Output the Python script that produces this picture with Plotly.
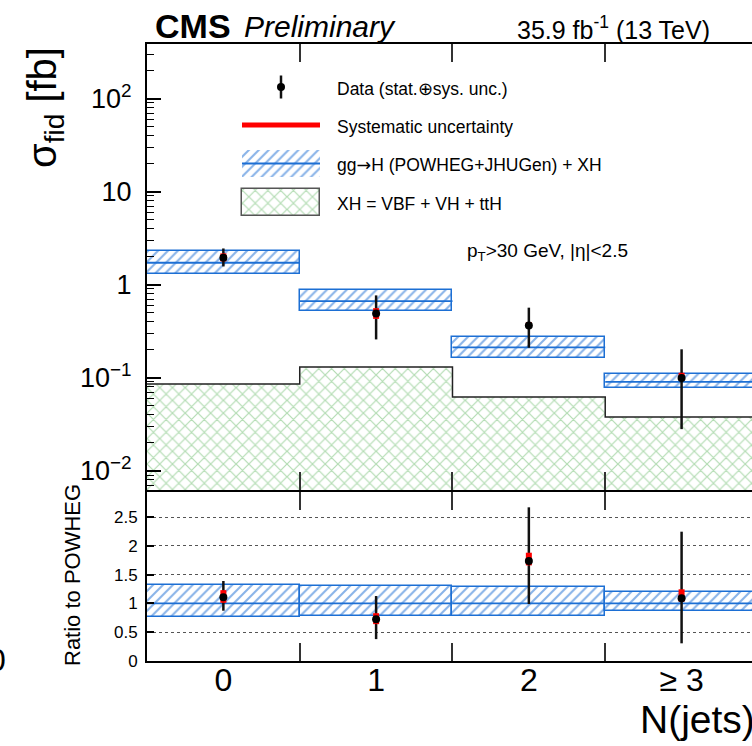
import plotly.graph_objects as go

# ---------------- data ----------------
categories = ["0", "1", "2", "≥ 3"]
bin_centers = [0, 1, 2, 3]
bin_edges = [-0.5, 0.5, 1.5, 2.5, 3.5]

# top panel: fiducial cross section [fb]
data_val = [1.95, 0.489, 0.365, 0.099]
data_err_up = [0.50, 0.278, 0.201, 0.103]
data_err_dn = [0.38, 0.231, 0.155, 0.071]
sys_err_up = [0.22, 0.07, 0.03, 0.014]
sys_err_dn = [0.17, 0.06, 0.016, 0.005]

pred_val = [1.72, 0.667, 0.212, 0.090]
pred_hi = [2.28, 0.869, 0.274, 0.109]
pred_lo = [1.29, 0.517, 0.164, 0.078]

xh_val = [0.0856, 0.130, 0.062, 0.0378]

# ratio panel
ratio_val = [1.106, 0.724, 1.736, 1.088]
ratio_err_up = [0.283, 0.404, 0.932, 1.157]
ratio_err_dn = [0.233, 0.344, 0.746, 0.781]
ratio_sys_up = [0.124, 0.106, 0.144, 0.157]
ratio_sys_dn = [0.096, 0.084, 0.076, 0.058]
ratio_box_hi = [1.314, 1.302, 1.29, 1.198]
ratio_box_lo = [0.764, 0.78, 0.78, 0.862]

top_tickvals = [0.01, 0.1, 1, 10, 100]
top_ticktext = ["10<sup>−2</sup>", "10<sup>−1</sup>", "1", "10", "10<sup>2</sup>"]
ratio_tickvals = [0, 0.5, 1, 1.5, 2, 2.5]
ratio_ticktext = ["0", "0.5", "1", "1.5", "2", "2.5"]

legend_labels = ["Data (stat.⊕sys. unc.)", "Systematic uncertainty",
                 "gg<span style='font-family:DejaVu Sans'>→</span>H (POWHEG+JHUGen) + XH",
                 "XH = VBF + VH + ttH"]

# ---------------- style / geometry ----------------
FONT = "Liberation Sans, Arial, Helvetica, sans-serif"
BLUE_LINE = "#1c6fd4"
BLUE_HATCH = "#1468d2"
GREEN_HATCH = "#66b866"
W, H = 752, 746
ML, MR, MT, MB = 147, 0, 44, 85
plot_w = W - ML - MR
plot_h = H - MT - MB
Y_TOP_BOTTOM_PX = 490   # bottom edge of upper panel
Y_RATIO_TOP_PX = 492    # top edge of ratio panel
top_dom = [(H - MB - Y_TOP_BOTTOM_PX) / plot_h, 1]
ratio_dom = [0, (H - MB - Y_RATIO_TOP_PX) / plot_h]
Y_LOG_RANGE = [-2.207, 2.587]
Y2_RANGE = [0, 2.934]
X_RANGE = [-0.5, 3.461]


def paper(x, y):
    return (x - ML) / plot_w, (H - MB - y) / plot_h


fig = go.Figure()

floor = 10 ** Y_LOG_RANGE[0]

blue_pattern = dict(shape="/", fgcolor=BLUE_HATCH, bgcolor="white", size=7, solidity=0.3)
green_pattern = dict(shape="x", fgcolor=GREEN_HATCH, bgcolor="white", size=9, solidity=0.25)

# XH hatched histogram
fig.add_trace(go.Bar(
    x=bin_centers, y=[v - floor for v in xh_val], base=[floor] * len(xh_val), width=1,
    marker=dict(color="white", line=dict(width=0), pattern=green_pattern),
    xaxis="x", yaxis="y", showlegend=False, hoverinfo="skip"))
fig.add_trace(go.Scatter(
    x=bin_edges, y=xh_val + [xh_val[-1]], mode="lines", line=dict(shape="hv", color="#222", width=1.5),
    xaxis="x", yaxis="y", showlegend=False, hoverinfo="skip"))


def add_pred(lo, hi, center, xa, ya):
    fig.add_trace(go.Bar(
        x=bin_centers, y=[h - l for h, l in zip(hi, lo)], base=lo, width=1,
        marker=dict(color="white", line=dict(width=1.5, color=BLUE_LINE), pattern=blue_pattern),
        xaxis=xa, yaxis=ya, showlegend=False, hoverinfo="skip"))
    xs, ys = [], []
    for i, c in enumerate(center):
        xs += [bin_edges[i], bin_edges[i + 1], None]
        ys += [c, c, None]
    fig.add_trace(go.Scatter(x=xs, y=ys, mode="lines", line=dict(color=BLUE_LINE, width=1.8),
                             xaxis=xa, yaxis=ya, showlegend=False, hoverinfo="skip"))


def add_data(val, eu, ed, su, sd, xa, ya):
    fig.add_trace(go.Scatter(
        x=bin_centers, y=val, mode="markers", marker=dict(size=1, color="rgba(0,0,0,0)"),
        error_y=dict(type="data", symmetric=False, array=eu, arrayminus=ed, color="#111", thickness=2.5, width=0),
        xaxis=xa, yaxis=ya, showlegend=False, hoverinfo="skip"))
    fig.add_trace(go.Scatter(
        x=bin_centers, y=val, mode="markers", marker=dict(size=1, color="rgba(0,0,0,0)"),
        error_y=dict(type="data", symmetric=False, array=su, arrayminus=sd, color="#ff0000", thickness=6, width=0),
        xaxis=xa, yaxis=ya, showlegend=False, hoverinfo="skip"))
    fig.add_trace(go.Scatter(
        x=bin_centers, y=val, mode="markers", marker=dict(size=8, color="black"),
        xaxis=xa, yaxis=ya, showlegend=False, hoverinfo="skip"))


add_pred(pred_lo, pred_hi, pred_val, "x", "y")
add_data(data_val, data_err_up, data_err_dn, sys_err_up, sys_err_dn, "x", "y")

ratio_center = [p / p for p in pred_val]
add_pred(ratio_box_lo, ratio_box_hi, ratio_center, "x2", "y2")
add_data(ratio_val, ratio_err_up, ratio_err_dn, ratio_sys_up, ratio_sys_dn, "x2", "y2")

# ---------------- manual legend (pixel-like overlay axes) ----------------
LX0, LX1 = 242, 320
LXC = (LX0 + LX1) / 2
fig.add_trace(go.Scatter(
    x=[281], y=[87], mode="markers", marker=dict(size=8, color="black"),
    error_y=dict(type="data", array=[11.5], color="#111", thickness=2.5, width=0),
    xaxis="x3", yaxis="y3", showlegend=False, hoverinfo="skip"))
fig.add_trace(go.Scatter(
    x=[LX0, LX1], y=[125, 125], mode="lines", line=dict(color="#ff0000", width=5),
    xaxis="x3", yaxis="y3", showlegend=False, hoverinfo="skip"))
fig.add_trace(go.Bar(
    x=[LXC], y=[27], base=[150], width=LX1 - LX0,
    marker=dict(color="white", line=dict(width=0), pattern=blue_pattern),
    xaxis="x3", yaxis="y3", showlegend=False, hoverinfo="skip"))
fig.add_trace(go.Scatter(
    x=[LX0, LX1], y=[163.5, 163.5], mode="lines", line=dict(color=BLUE_LINE, width=2),
    xaxis="x3", yaxis="y3", showlegend=False, hoverinfo="skip"))
fig.add_trace(go.Bar(
    x=[LXC], y=[27], base=[188.5], width=LX1 - LX0,
    marker=dict(color="white", line=dict(width=1.5, color="#555"), pattern=green_pattern),
    xaxis="x3", yaxis="y3", showlegend=False, hoverinfo="skip"))

legend_rows = [89, 127, 165, 204]


def text(x, y, s, size, xanchor="left", angle=0):
    px, py = paper(x, y)
    return dict(x=px, y=py, xref="paper", yref="paper", text=s, showarrow=False, textangle=angle,
                xanchor=xanchor, yanchor="middle", font=dict(size=size, color="black", family=FONT))


annotations = [text(335, yy, lab, 17.5) for lab, yy in zip(legend_labels, legend_rows)]
annotations += [
    text(153, 26, "<b>CMS</b>", 34),
    text(242, 27, "<i>Preliminary</i>", 30),
    text(712, 28, "35.9 fb<sup>-1</sup> (13 TeV)", 25, xanchor="right"),
    text(547, 252, "p<sub>T</sub>&gt;30 GeV, |η|&lt;2.5", 19, xanchor="center"),
    text(45, 108, "σ<sub>fid</sub> [fb]", 40, xanchor="center", angle=-90),
    text(72, 575, "Ratio to POWHEG", 22, xanchor="center", angle=-90),
    text(757, 719, "N(jets)", 39, xanchor="right"),
    text(8, 660, "0", 32, xanchor="right"),
]

edge_ticks = bin_edges[1:-1]
minor_log = [m * 10 ** d for d in range(-3, 3) for m in range(2, 10)]

axis_common = dict(linecolor="black", linewidth=2, showline=True, zeroline=False, showgrid=False)

fig.update_layout(
    width=W, height=H, margin=dict(l=ML, r=MR, t=MT, b=MB, pad=0),
    paper_bgcolor="white", plot_bgcolor="white", barmode="overlay", bargap=0,
    showlegend=False, font=dict(family=FONT, color="black"),
    annotations=annotations,
    xaxis=dict(domain=[0, 1], anchor="y", range=X_RANGE, tickmode="array", tickvals=bin_centers,
               showticklabels=False, ticks="", mirror="ticks",
               minor=dict(tickmode="array", tickvals=edge_ticks, ticks="inside", ticklen=18, tickwidth=1.5,
                          tickcolor="#333"),
               **axis_common),
    yaxis=dict(domain=top_dom, anchor="x", type="log", range=Y_LOG_RANGE, tickmode="array",
               tickvals=top_tickvals, ticktext=top_ticktext, ticks="inside", ticklen=14, tickwidth=1.5,
               tickcolor="black", tickfont=dict(size=27, family=FONT), ticklabelstandoff=8,
               minor=dict(tickmode="array", tickvals=minor_log, ticks="inside", ticklen=7, tickwidth=1,
                          tickcolor="black"),
               **axis_common),
    xaxis2=dict(domain=[0, 1], anchor="y2", range=X_RANGE, tickmode="array", tickvals=bin_centers,
                ticktext=categories, ticks="", mirror="ticks", tickfont=dict(size=32, family=FONT),
                ticklabelstandoff=-10,
                minor=dict(tickmode="array", tickvals=edge_ticks, ticks="inside", ticklen=18, tickwidth=1.5,
                           tickcolor="#333"),
                **axis_common),
    yaxis2=dict(domain=ratio_dom, anchor="x2", range=Y2_RANGE, tickmode="array",
                tickvals=ratio_tickvals, ticktext=ratio_ticktext, ticks="inside", ticklen=7, tickwidth=1.5,
                tickcolor="black", tickfont=dict(size=17, family=FONT), ticklabelstandoff=4,
                linecolor="black", linewidth=2, showline=True, zeroline=False,
                showgrid=True, griddash="dot", gridcolor="#555", gridwidth=1),
    xaxis3=dict(overlaying="x", anchor="y3", range=[ML, W], visible=False),
    yaxis3=dict(overlaying="y", anchor="x3", range=[Y_TOP_BOTTOM_PX, MT], visible=False),
)

fig.write_html("out.html")
